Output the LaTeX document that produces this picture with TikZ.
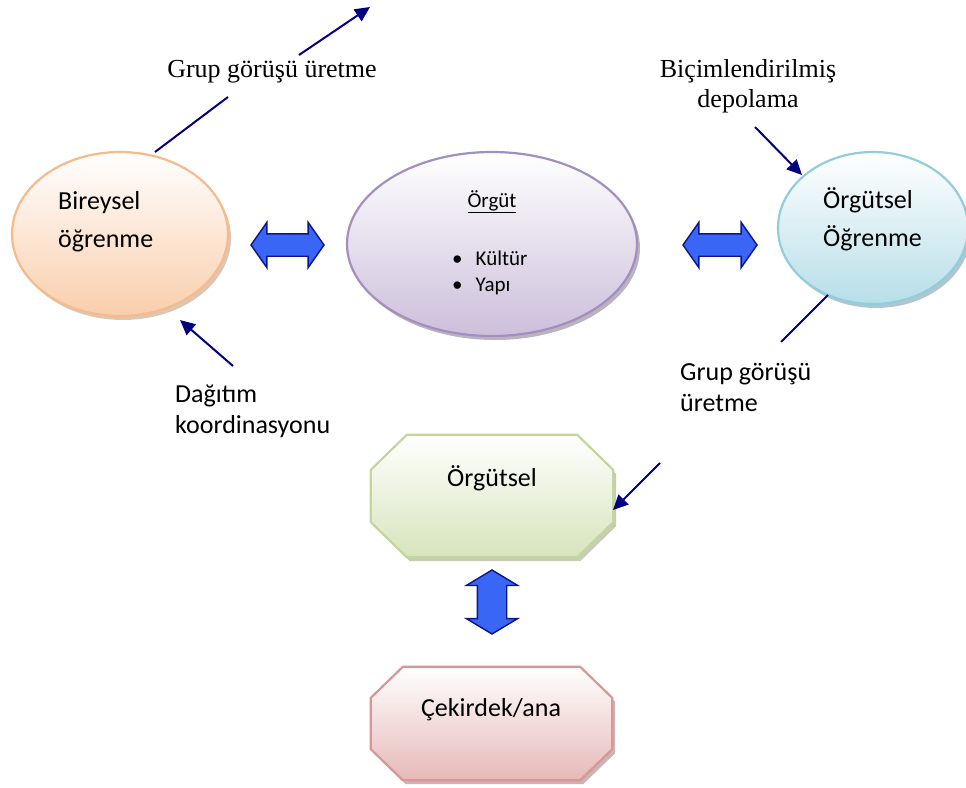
\documentclass[tikz,border=0pt]{standalone}
\usepackage{fontspec}
\setmainfont{Liberation Serif}
\newfontfamily\calfont{Carlito}
\usetikzlibrary{shapes.geometric,shapes.arrows,arrows.meta,shadows,calc}

% palette
\definecolor{peachb}{RGB}{246,187,140}
\definecolor{peachf}{RGB}{249,206,172}
\definecolor{peachs}{RGB}{196,160,130}
\definecolor{lilacb}{RGB}{164,142,192}
\definecolor{lilacf}{RGB}{204,191,219}
\definecolor{lilacs}{RGB}{140,128,150}
\definecolor{cyanb}{RGB}{147,205,221}
\definecolor{cyanf}{RGB}{183,222,232}
\definecolor{cyans}{RGB}{120,160,172}
\definecolor{greenb}{RGB}{195,214,155}
\definecolor{greenf}{RGB}{215,228,189}
\definecolor{greens}{RGB}{160,170,135}
\definecolor{roseb}{RGB}{217,150,148}
\definecolor{rosef}{RGB}{230,185,184}
\definecolor{roses}{RGB}{170,130,130}
\definecolor{blockfill}{RGB}{58,102,245}
\definecolor{blockline}{RGB}{10,20,140}
\definecolor{navyline}{RGB}{0,0,128}

% octagon drawn around a named rectangular frame node:
% #1 = frame node, #2 = horizontal cut, #3 = vertical cut
\newcommand{\octapath}[3]{%
  ($(#1.north west)+(#2,0)$) -- ($(#1.north east)+(-#2,0)$) --
  ($(#1.north east)+(0,#3)$) -- ($(#1.south east)+(0,-#3)$) --
  ($(#1.south east)+(-#2,0)$) -- ($(#1.south west)+(#2,0)$) --
  ($(#1.south west)+(0,-#3)$) -- ($(#1.north west)+(0,#3)$) -- cycle}

\begin{document}
\begin{tikzpicture}[x=1pt,y=-1pt,
  bubble/.style={ellipse, inner sep=0pt, line width=2.2pt, top color=white},
  frame/.style={rectangle, inner sep=0pt},
  octa/.style={line width=2.2pt, top color=white},
  soft/.style={drop shadow={shadow xshift=3pt, shadow yshift=-4pt, fill=#1, opacity=0.6}},
  blockarrow/.style={double arrow, inner xsep=0pt, draw=blockline, line width=1.4pt, fill=blockfill},
  cal/.style={font=\calfont\fontsize{26}{38}\selectfont, inner sep=0pt, align=left},
  small/.style={font=\calfont\fontsize{21}{26}\selectfont, inner sep=0pt},
  serif/.style={font=\fontsize{26}{30}\selectfont, inner sep=0pt, align=center},
  link/.style={draw=navyline, line width=2pt},
  linkarrow/.style={link, -{Triangle[length=15pt,width=14pt]}}
]
\useasboundingbox (0,0) rectangle (966,787);
\clip (0,0) rectangle (966,787);

% three learning levels
\node[bubble, soft=peachs, draw=peachb, bottom color=peachf,
      minimum width=216pt, minimum height=164pt] (bir) at (120,234) {};
\node[bubble, soft=lilacs, draw=lilacb, bottom color=lilacf,
      minimum width=290pt, minimum height=184pt] (orgut) at (492,244) {};
\node[bubble, soft=cyans, draw=cyanb, bottom color=cyanf,
      minimum width=190pt, minimum height=152pt] (oo) at (873,228) {};

% multi-line nodes: base anchor sits on the last line
\node[cal, anchor=base west] (birtxt) at (58,247) {Bireysel\\öğrenme};
\node[cal, anchor=base west] (ootxt) at (823,246) {Örgütsel\\Öğrenme};

% contents of the organisation bubble
\node[small, anchor=base] (orgutbaslik) at (492,207) {\underline{Örgüt}};
\node[small, anchor=base west] (kultur) at (452,265) {•\hspace{13pt}Kültür};
\node[small, anchor=base west] (yapi) at (452,291) {•\hspace{13pt}Yapı};

% two-way block arrows
\node[blockarrow, minimum height=73pt, minimum width=44pt, inner ysep=10.5pt,
      double arrow head extend=11.5pt, double arrow tip angle=110] (dl) at (287.5,245) {};
\node[blockarrow, minimum height=74pt, minimum width=44pt, inner ysep=10.5pt,
      double arrow head extend=11.5pt, double arrow tip angle=110] (dr) at (720,245) {};
\node[blockarrow, minimum height=64pt, minimum width=50pt, inner ysep=14pt, rotate=90,
      double arrow head extend=11pt, double arrow tip angle=118] (dv) at (492,602) {};

% organisational levels
\node[frame, minimum width=242pt, minimum height=122pt] (orgsel) at (492,496) {};
\node[frame, minimum width=241pt, minimum height=113pt] (cekirdek) at (491.5,723.5) {};
\path[octa, soft=greens, draw=greenb, bottom color=greenf] \octapath{orgsel}{36}{35};
\path[octa, soft=roses, draw=roseb, bottom color=rosef] \octapath{cekirdek}{32}{31};

\node[cal, anchor=base] (orgseltxt) at (492,486) {Örgütsel};
\node[cal, anchor=base] (cekirdektxt) at (491,716) {Çekirdek/ana};

% process labels
\node[serif, anchor=base] (grup1) at (272,77) {Grup görüşü üretme};
\node[serif, anchor=base] (bicim) at (748,107) {Biçimlendirilmiş\\depolama};
\node[font=\calfont\fontsize{26}{31}\selectfont, inner sep=0pt, align=left,
      anchor=base west] (dagitim) at (175,433) {Dağıtım\\koordinasyonu};
\node[font=\calfont\fontsize{26}{31}\selectfont, inner sep=0pt, align=left,
      anchor=base west] (grup2) at (680,411) {Grup görüşü\\üretme};

% process flows
\coordinate (g1a) at (155,152);
\coordinate (g1b) at (228,97);
\coordinate (g1c) at (299,55);
\coordinate (g1d) at (370,7);
\draw[link] (g1a) -- (g1b);
\draw[linkarrow] (g1c) -- (g1d);

\coordinate (bs) at (755,127);
\coordinate (be) at (802,175);
\draw[linkarrow] (bs) -- (be);

\coordinate (ds) at (233,366);
\coordinate (de) at (180,320);
\draw[linkarrow] (ds) -- (de);

\coordinate (g2a) at (828,295);
\coordinate (g2b) at (781,342);
\coordinate (g2c) at (660,463);
\coordinate (g2d) at (613,510);
\draw[link] (g2a) -- (g2b);
\draw[linkarrow] (g2c) -- (g2d);
\end{tikzpicture}
\end{document}
